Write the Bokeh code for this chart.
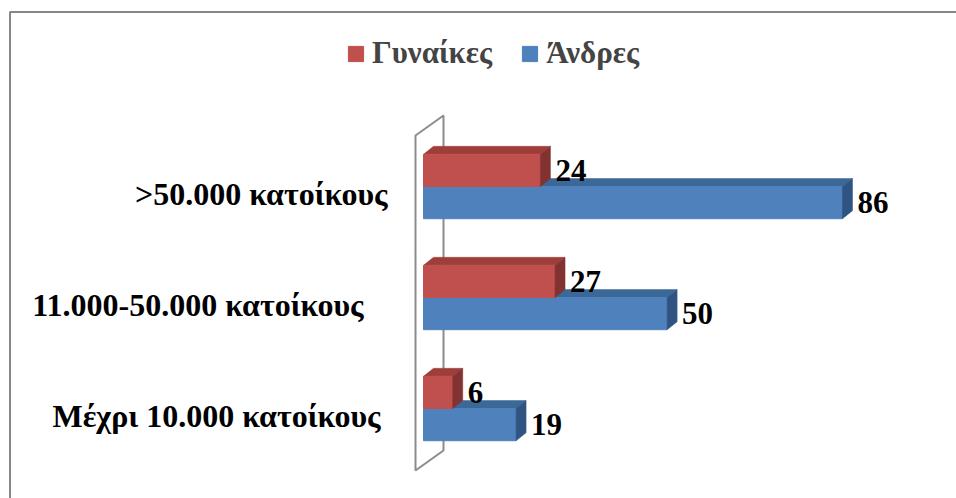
import numpy as np
from bokeh.plotting import figure
from bokeh.models import ColumnDataSource, Legend, LegendItem, Range1d
from bokeh.core.properties import value
from bokeh.embed import file_html
from bokeh.resources import INLINE

# ---------------- data ----------------
categories = ["Μέχρι 10.000 κατοίκους", "11.000-50.000 κατοίκους", ">50.000 κατοίκους"]  # bottom -> top
women = [6, 27, 24]
men = [19, 50, 86]
series_names = ["Γυναίκες", "Άνδρες"]

# ---------------- styles ----------------
W, H = 956, 498
X0_PX = 423.0          # px of value 0
PXU = 4.872            # px per unit on x
Y0_PX = 408.0          # px of first category baseline
PYU = 111.0            # px per category
BAR_H = 0.29           # bar thickness (category units)
DX = 10 / PXU          # 3D depth (x)
DY = 8 / PYU           # 3D depth (y)
FONT = "'Liberation Serif', 'Times New Roman', serif"
RED = ("#C0504D", "#9E3E3B", "#823230")
BLUE = ("#4F81BD", "#3C6898", "#2F5482")
cat_label_xoff = [-43, -60, -36]

def px_x(px):
    return (px - X0_PX) / PXU

def px_y(py):
    return (Y0_PX - py) / PYU

p = figure(width=W, height=H, output_backend="svg", toolbar_location=None,
           x_range=Range1d(px_x(0), px_x(W)), y_range=Range1d(px_y(H), px_y(0)),
           x_axis_location=None, y_axis_location=None, min_border=0,
           outline_line_color=None)
p.xgrid.visible = False
p.ygrid.visible = False
p.background_fill_color = "white"
p.border_fill_color = "white"

# outer chart border (top and left edges visible)
p.line([px_x(W + 20), px_x(9.5), px_x(9.5)], [px_y(11.5), px_y(11.5), px_y(H + 20)],
       line_color="#878787", line_width=2)

# 3D side wall
wall_x = [px_x(415), px_x(443), px_x(443), px_x(415)]
wall_y = [px_y(135), px_y(115), px_y(450), px_y(470)]
p.patch(wall_x, wall_y, fill_color="white", line_color="#8C8C8C", line_width=2)

idx = np.arange(len(categories))

def draw_series(vals, bottoms, tops, cols):
    front, topf, side = cols
    txs, tys, sxs, sys_ = [], [], [], []
    for v, b, t in zip(vals, bottoms, tops):
        txs.append([0, v, v + DX, DX])
        tys.append([t, t, t + DY, t + DY])
        sxs.append([v, v, v + DX, v + DX])
        sys_.append([b, t, t + DY, b + DY])
    p.patches(txs, tys, fill_color=topf, line_color=topf, line_width=0.5)
    r = p.quad(left=0, right=vals, bottom=bottoms, top=tops, fill_color=front, line_color=front)
    p.patches(sxs, sys_, fill_color=side, line_color=side, line_width=0.5)
    return r

r_men = draw_series(men, list(idx - BAR_H), list(idx), BLUE)
r_women = draw_series(women, list(idx), list(idx + BAR_H), RED)

# data labels
lab = ColumnDataSource(dict(
    x=women + men,
    y=list(idx + BAR_H / 2) + list(idx - BAR_H / 2),
    t=[str(v) for v in women + men]))
p.text(x="x", y="y", text="t", source=lab, x_offset=15, text_align="left",
       text_baseline="middle", text_font=value(FONT), text_font_style="bold",
       text_font_size="31px", text_color="black")

# category labels
cl = ColumnDataSource(dict(x=[0] * len(categories), y=list(idx), t=categories, xo=cat_label_xoff))
p.text(x="x", y="y", text="t", source=cl, x_offset="xo", y_offset=7, text_align="right",
       text_baseline="middle", text_font=value(FONT), text_font_style="bold",
       text_font_size="32px", text_color="black")

legend = Legend(items=[LegendItem(label=series_names[0], renderers=[r_women]),
                       LegendItem(label=series_names[1], renderers=[r_men])],
                orientation="horizontal", location=(346, 427), padding=0, margin=0,
                spacing=28, glyph_width=19, glyph_height=19, label_standoff=7,
                label_text_font=FONT, label_text_font_style="bold", label_text_font_size="31px",
                border_line_color=None, background_fill_alpha=0)
p.add_layout(legend, "center")

open("out.html", "w").write(file_html(p, INLINE))
